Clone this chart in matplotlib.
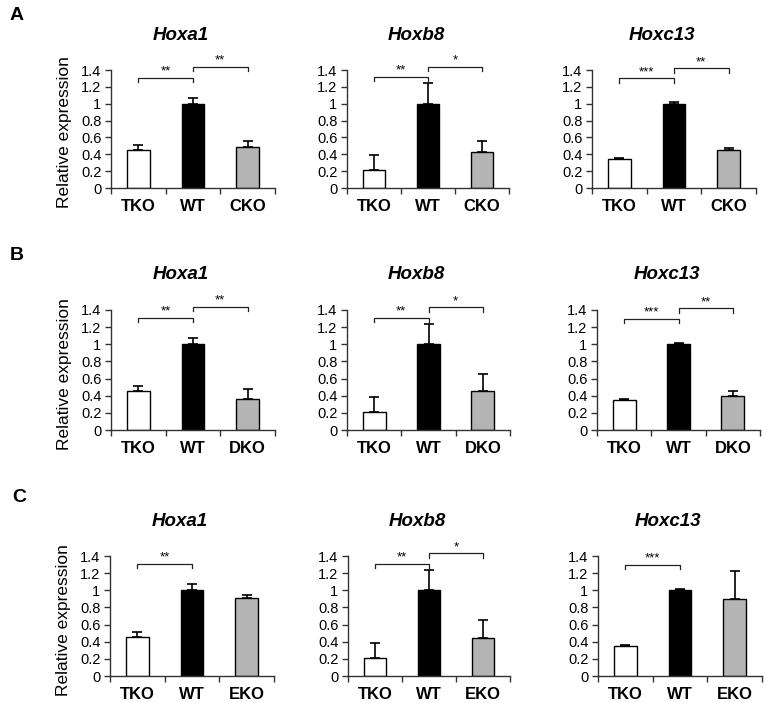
import matplotlib
matplotlib.use("Agg")
import matplotlib.pyplot as plt

plt.rcParams['font.family'] = ['Liberation Sans', 'DejaVu Sans']

W, H = 766, 703
DPI = 100

genes = ['Hoxa1', 'Hoxb8', 'Hoxc13']
panel_letters = ['A', 'B', 'C']
groups_A = ['TKO', 'WT', 'CKO']
groups_B = ['TKO', 'WT', 'DKO']
groups_C = ['TKO', 'WT', 'EKO']

# Row A
A_hoxa1 = [0.45, 1.0, 0.49]
A_hoxa1_err = [0.06, 0.07, 0.07]
A_hoxb8 = [0.21, 1.0, 0.43]
A_hoxb8_err = [0.18, 0.24, 0.13]
A_hoxc13 = [0.35, 1.0, 0.45]
A_hoxc13_err = [0.01, 0.02, 0.03]
# Row B
B_hoxa1 = [0.45, 1.0, 0.36]
B_hoxa1_err = [0.06, 0.07, 0.12]
B_hoxb8 = [0.21, 1.0, 0.45]
B_hoxb8_err = [0.18, 0.24, 0.20]
B_hoxc13 = [0.35, 1.0, 0.40]
B_hoxc13_err = [0.01, 0.02, 0.05]
# Row C
C_hoxa1 = [0.45, 1.0, 0.91]
C_hoxa1_err = [0.06, 0.07, 0.03]
C_hoxb8 = [0.21, 1.0, 0.44]
C_hoxb8_err = [0.18, 0.24, 0.21]
C_hoxc13 = [0.35, 1.0, 0.90]
C_hoxc13_err = [0.01, 0.02, 0.33]

# significance brackets: (from, to, level, label)
sig_A = [[(0, 1, 1.31, '**'), (1, 2, 1.44, '**')],
         [(0, 1, 1.32, '**'), (1, 2, 1.44, '*')],
         [(0, 1, 1.30, '***'), (1, 2, 1.42, '**')]]
sig_B = [[(0, 1, 1.31, '**'), (1, 2, 1.44, '**')],
         [(0, 1, 1.31, '**'), (1, 2, 1.43, '*')],
         [(0, 1, 1.30, '***'), (1, 2, 1.42, '**')]]
sig_C = [[(0, 1, 1.31, '**')],
         [(0, 1, 1.31, '**'), (1, 2, 1.43, '*')],
         [(0, 1, 1.30, '***')]]

yticks = [0, 0.2, 0.4, 0.6, 0.8, 1.0, 1.2, 1.4]
ytick_labels = ['0', '0.2', '0.4', '0.6', '0.8', '1', '1.2', '1.4']
bar_colors = ['white', 'black', '#b4b4b4']

rows = [
    (groups_A, [(A_hoxa1, A_hoxa1_err), (A_hoxb8, A_hoxb8_err), (A_hoxc13, A_hoxc13_err)], sig_A),
    (groups_B, [(B_hoxa1, B_hoxa1_err), (B_hoxb8, B_hoxb8_err), (B_hoxc13, B_hoxc13_err)], sig_B),
    (groups_C, [(C_hoxa1, C_hoxa1_err), (C_hoxb8, C_hoxb8_err), (C_hoxc13, C_hoxc13_err)], sig_C),
]

# layout in pixels: (top of axis (1.4), bottom (0))
row_y = [(70, 188), (310, 430), (556, 676)]
col_x = [[(111, 275), (347, 509), (592, 756)],
         [(111, 275), (347, 510), (597, 760)],
         [(110, 274), (348, 510), (598, 762)]]
letter_pos = [(10, 15), (10, 256), (12, 497)]

fig = plt.figure(figsize=(W / DPI, H / DPI), dpi=DPI)
axis_color = '#333333'

for r, (groups, data, sigs) in enumerate(rows):
    top, bot = row_y[r]
    for c in range(3):
        x0, x1 = col_x[r][c]
        ax = fig.add_axes([x0 / W, 1 - bot / H, (x1 - x0) / W, (bot - top) / H])
        vals, errs = data[c]
        xs = list(range(len(groups)))
        ax.bar(xs, vals, width=0.42, color=bar_colors, edgecolor='black', linewidth=1.0, zorder=2)
        ax.errorbar(xs, vals, yerr=[[0] * len(errs), errs], fmt='none', ecolor='black',
                    elinewidth=1.2, capsize=3.5, capthick=1.2, zorder=3)
        ax.set_xlim(-0.5, 2.5)
        ax.set_ylim(0, 1.4)
        ax.set_yticks(yticks)
        ax.set_yticklabels(ytick_labels, fontsize=10.5)
        ax.set_xticks([-0.5, 0.5, 1.5, 2.5])
        ax.set_xticklabels([])
        ax.set_xticks(xs, minor=True)
        ax.set_xticklabels(groups, minor=True, fontsize=12, fontweight='bold')
        ax.tick_params(axis='x', which='minor', length=0, pad=8)
        ax.tick_params(axis='x', which='major', length=4.5, width=1, color=axis_color, direction='out')
        ax.tick_params(axis='y', length=4.5, width=1, color=axis_color, direction='out', pad=2.5)
        for s in ['top', 'right']:
            ax.spines[s].set_visible(False)
        for s in ['left', 'bottom']:
            ax.spines[s].set_color(axis_color)
            ax.spines[s].set_linewidth(1.0)
        # significance brackets
        for (i, j, lvl, lab) in sigs[c]:
            ax.plot([i, i, j, j], [lvl - 0.05, lvl, lvl, lvl - 0.05], color='#222222',
                    linewidth=0.9, clip_on=False, zorder=4)
            ax.text((i + j) / 2, lvl + 0.0, lab, ha='center', va='bottom', fontsize=9.5,
                    clip_on=False)
        # title
        ax.text(0.5 - 12 / (x1 - x0), 1 + 35 / (bot - top), genes[c], transform=ax.transAxes,
                ha='center', va='center', fontsize=13.5, fontweight='bold', fontstyle='italic')
        if c == 0:
            ax.set_ylabel('Relative expression', fontsize=12.5)
            ax.yaxis.set_label_coords(-39 / (x1 - x0), 0.47)
    lx, ly = letter_pos[r]
    fig.text(lx / W, 1 - ly / H, panel_letters[r], fontsize=14, fontweight='bold',
             ha='left', va='center')

fig.savefig('out.png', dpi=DPI)
